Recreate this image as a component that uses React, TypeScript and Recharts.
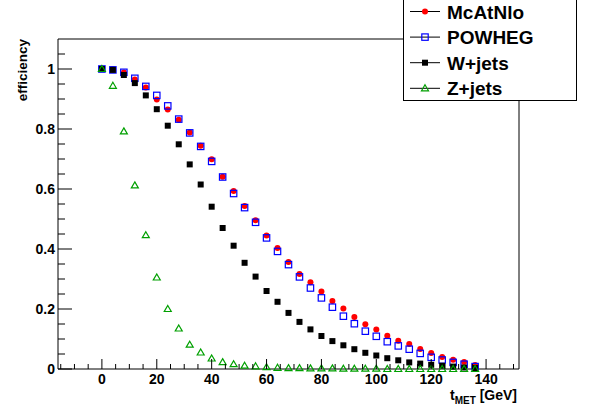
import React from 'react';
import { ScatterChart, Scatter, XAxis, YAxis, ReferenceLine, Legend } from 'recharts';

// missing transverse energy cut (GeV)
const met = [
  0, 4, 8, 12, 16, 20, 24, 28, 32, 36, 40, 44, 48, 52, 56, 60, 64, 68,
  72, 76, 80, 84, 88, 92, 96, 100, 104, 108, 112, 116, 120, 124, 128, 132, 136
];

const mcatnlo = [
  1.0, 0.998, 0.988, 0.965, 0.938, 0.898, 0.865, 0.831, 0.788, 0.744, 0.699, 0.641,
  0.593, 0.543, 0.496, 0.445, 0.403, 0.357, 0.317, 0.289, 0.258, 0.227, 0.202, 0.173,
  0.149, 0.132, 0.111, 0.094, 0.083, 0.067, 0.053, 0.04, 0.031, 0.023, 0.013
];

const powheg = [
  1.0, 0.997, 0.989, 0.969, 0.942, 0.912, 0.877, 0.833, 0.787, 0.742, 0.692, 0.64,
  0.585, 0.538, 0.489, 0.437, 0.392, 0.348, 0.307, 0.27, 0.237, 0.206, 0.176, 0.151,
  0.126, 0.109, 0.091, 0.077, 0.066, 0.052, 0.039, 0.03, 0.022, 0.016, 0.008
];

const wjets = [
  1.0, 0.997, 0.98, 0.953, 0.912, 0.866, 0.811, 0.749, 0.682, 0.615, 0.541, 0.47,
  0.411, 0.354, 0.308, 0.26, 0.224, 0.187, 0.157, 0.132, 0.11, 0.093, 0.079, 0.066,
  0.054, 0.045, 0.036, 0.029, 0.022, 0.018, 0.014, 0.011, 0.008, 0.005, 0.003
];

const zjets = [
  1.0, 0.944, 0.792, 0.612, 0.446, 0.305, 0.2, 0.135, 0.081, 0.055, 0.035, 0.023,
  0.016, 0.011, 0.009, 0.006, 0.004, 0.003, 0.003, 0.002, 0.002, 0.002, 0.001, 0.001,
  0.001, 0.001, 0, 0, 0, 0, 0, 0, 0, 0, 0
];

const seriesNames = ['McAtNlo', 'POWHEG', 'W+jets', 'Z+jets'];

const xTicks = [
  -15, -10, -5, 0, 5, 10, 15, 20, 25, 30, 35, 40, 45, 50, 55, 60, 65, 70, 75,
  80, 85, 90, 95, 100, 105, 110, 115, 120, 125, 130, 135, 140, 145, 150
];
const yTicks = [
  0, 0.05, 0.1, 0.15, 0.2, 0.25, 0.3, 0.35, 0.4, 0.45, 0.5, 0.55,
  0.6, 0.65, 0.7, 0.75, 0.8, 0.85, 0.9, 0.95, 1, 1.05
];

const FONT = '"Liberation Sans", Arial, Helvetica, sans-serif';
const GREEN = '#00a000';

const toPoints = (vals: number[]) => met.map((x, i) => ({ x, y: vals[i] }));

const RedCircle = (p: any) => <circle cx={p.cx} cy={p.cy} r={3} fill="#ff0000" />;
const BlueSquare = (p: any) => (
  <rect x={p.cx - 3.2} y={p.cy - 3.2} width={6.4} height={6.4} fill="none" stroke="#0000ff" strokeWidth={1.2} />
);
const BlackSquare = (p: any) => <rect x={p.cx - 3} y={p.cy - 3} width={6} height={6} fill="#000" />;
const GreenTriangle = (p: any) => (
  <polygon
    points={`${p.cx},${p.cy - 3.5} ${p.cx + 3.5},${p.cy + 2.5} ${p.cx - 3.5},${p.cy + 2.5}`}
    fill="none"
    stroke={GREEN}
    strokeWidth={1.2}
  />
);

const markers = [RedCircle, BlueSquare, BlackSquare, GreenTriangle];

const XTick = (props: any) => {
  const { x, y, payload } = props;
  const v = payload.value;
  const major = v % 20 === 0;
  return (
    <g>
      <line x1={x} x2={x} y1={y} y2={y - (major ? 10 : 5)} stroke="#000" />
      {major && (
        <text x={x} y={y + 15} textAnchor="middle" fontFamily={FONT} fontWeight="bold" fontSize={14} fill="#000">
          {v}
        </text>
      )}
    </g>
  );
};

const YTick = (props: any) => {
  const { x, y, payload } = props;
  const v = payload.value;
  const major = Math.abs(v / 0.2 - Math.round(v / 0.2)) < 1e-6;
  return (
    <g>
      <line x1={x} x2={x + (major ? 14 : 7)} y1={y} y2={y} stroke="#000" />
      {major && (
        <text x={x - 3} y={y + 5} textAnchor="end" fontFamily={FONT} fontWeight="bold" fontSize={14} fill="#000">
          {String(Math.round(v * 10) / 10)}
        </text>
      )}
    </g>
  );
};

const LegendBox = () => (
  <div
    style={{
      width: 174,
      height: 102,
      border: '1px solid #000',
      background: '#fff',
      boxSizing: 'border-box'
    }}
  >
    <svg width={172} height={100}>
      {seriesNames.map((name, i) => {
        const cy = 11.5 + i * 25.6;
        const M = markers[i];
        return (
          <g key={name}>
            <line x1={6} x2={36} y1={cy} y2={cy} stroke="#000" />
            <M cx={21} cy={cy} />
            <text x={43} y={cy + 7} fontFamily={FONT} fontWeight="bold" fontSize={19} fill="#000">
              {name}
            </text>
          </g>
        );
      })}
    </svg>
  </div>
);

export default function App() {
  return (
    <div style={{ position: 'absolute', left: 0, top: 0 }}>
      <ScatterChart width={592} height={410} margin={{ top: 39, right: 73, left: 0, bottom: 0 }}>
        <XAxis
          type="number"
          dataKey="x"
          domain={[-16, 152]}
          ticks={xTicks}
          interval={0}
          tickLine={false}
          tickSize={0}
          tickMargin={0}
          tick={XTick}
          height={41}
          axisLine={{ stroke: '#000' }}
          label={{
            content: () => (
              <text x={517} y={400} textAnchor="end" fontFamily={FONT} fontWeight="bold" fontSize={14} fill="#000">
                t
                <tspan fontSize={10} dy={4}>MET</tspan>
                <tspan dy={-4}> [GeV]</tspan>
              </text>
            )
          }}
        />
        <YAxis
          type="number"
          dataKey="y"
          domain={[0, 1.1]}
          ticks={yTicks}
          interval={0}
          tickLine={false}
          tickSize={0}
          tickMargin={0}
          tick={YTick}
          width={58}
          axisLine={{ stroke: '#000' }}
          label={{
            content: () => (
              <text
                x={0}
                y={0}
                transform="translate(27,39) rotate(-90)"
                textAnchor="end"
                fontFamily={FONT}
                fontWeight="bold"
                fontSize={13.5}
                fill="#000"
              >
                efficiency
              </text>
            )
          }}
        />
        <ReferenceLine y={1.1} stroke="#000" />
        <ReferenceLine x={152} stroke="#000" />
        <Scatter name={seriesNames[0]} data={toPoints(mcatnlo)} shape={RedCircle} isAnimationActive={false} />
        <Scatter name={seriesNames[1]} data={toPoints(powheg)} shape={BlueSquare} isAnimationActive={false} />
        <Scatter name={seriesNames[2]} data={toPoints(wjets)} shape={BlackSquare} isAnimationActive={false} />
        <Scatter name={seriesNames[3]} data={toPoints(zjets)} shape={GreenTriangle} isAnimationActive={false} />
        <Legend
          layout="horizontal"
          verticalAlign="middle"
          align="center"
          width={174}
          height={102}
          wrapperStyle={{ left: 403, top: -1, width: 174, height: 102 }}
          content={LegendBox}
        />
      </ScatterChart>
    </div>
  );
}
